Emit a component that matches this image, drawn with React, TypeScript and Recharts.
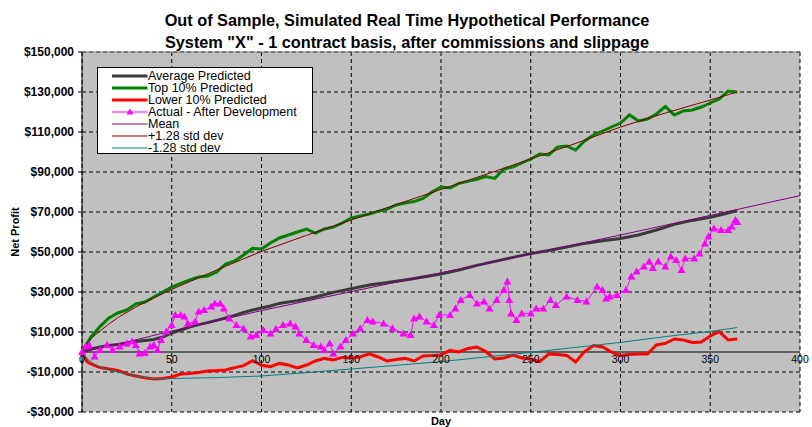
import React from 'react';
import { LineChart, Line, XAxis, YAxis, CartesianGrid, ReferenceLine, ReferenceDot, Legend } from 'recharts';

const FONT = '"Liberation Sans", Arial, sans-serif';

const titleLines = [
  'Out of Sample, Simulated Real Time Hypothetical Performance',
  'System "X" - 1 contract basis, after commissions and slippage',
];

const xTicks = [0, 50, 100, 150, 200, 250, 300, 350, 400];
const yTicks = [-30000, -10000, 10000, 30000, 50000, 70000, 90000, 110000, 130000, 150000];

const averagePredicted: [number, number][] = [
  [0, 0], [5, 1500], [10, 2500], [15, 3200], [20, 3800], [25, 4500], [30, 5200], [35, 5800], [40, 6300], [45, 7500],
  [50, 9500], [55, 11000], [60, 12500], [65, 13700], [70, 14700], [75, 15800], [80, 17000], [85, 18300], [90, 19800],
  [95, 21000], [100, 22000], [105, 23000], [110, 24300], [115, 25000], [120, 25600], [130, 27500], [140, 29800],
  [150, 31600], [160, 33500], [170, 34700], [180, 36000], [190, 37500], [200, 39000], [210, 41000], [220, 43300],
  [230, 45300], [240, 47300], [250, 49200], [260, 50800], [270, 52500], [280, 54300], [290, 55600], [300, 56800],
  [310, 58500], [320, 61000], [330, 63800], [340, 65800], [350, 67300], [360, 69500], [365, 70700],
];

const top10Predicted: [number, number][] = [
  [0, 0], [5, 7500], [10, 12700], [15, 17000], [20, 19500], [25, 21000], [30, 24000], [35, 25000], [40, 27500],
  [45, 30000], [50, 32500], [55, 34300], [60, 36000], [65, 37500], [70, 38000], [75, 40000], [80, 44000], [85, 45500],
  [90, 48500], [95, 51800], [100, 51500], [105, 54500], [110, 57000], [115, 58500], [120, 60000], [125, 61500],
  [130, 59500], [135, 61500], [140, 62500], [145, 64500], [150, 67000], [155, 68000], [160, 69000], [165, 70300],
  [170, 71500], [175, 73500], [180, 74500], [185, 75200], [190, 76800], [195, 80000], [200, 82500], [205, 82000],
  [210, 84300], [215, 85300], [220, 86300], [225, 87700], [230, 86800], [235, 91500], [240, 92500], [245, 94500],
  [250, 96500], [255, 99000], [260, 98500], [265, 102500], [270, 103000], [275, 101000], [280, 105500], [285, 108500],
  [290, 110500], [295, 112500], [300, 114500], [305, 118500], [310, 115500], [315, 116500], [320, 119000],
  [325, 122700], [330, 118500], [335, 120500], [340, 121000], [345, 122500], [350, 124500], [355, 126500],
  [360, 130500], [365, 130000],
];

const lower10Predicted: [number, number][] = [
  [0, 0], [3, -5000], [5, -6000], [10, -7800], [15, -8500], [20, -9200], [25, -11000], [30, -12000], [35, -12900],
  [40, -13500], [45, -13300], [50, -12500], [55, -11000], [60, -10700], [65, -10200], [70, -9500], [75, -9300],
  [80, -9000], [85, -7800], [90, -6800], [95, -4300], [100, -6600], [105, -7300], [110, -5700], [115, -6500],
  [120, -8000], [125, -6500], [130, -4500], [135, -3200], [140, -4000], [145, -2700], [150, -3000], [155, -2500],
  [160, -900], [165, -2500], [170, -4500], [175, -3800], [180, -3200], [185, -4500], [190, -2000], [195, -1800],
  [200, -1500], [205, 800], [210, 0], [215, 1800], [220, 2500], [225, 200], [230, -3500], [235, -3000], [240, -1500],
  [245, -3000], [250, -3500], [255, -4800], [260, -1000], [265, -1200], [270, -1700], [275, -5000], [280, 200],
  [285, 3200], [290, 2500], [295, 0], [300, -1800], [305, -1200], [310, -1000], [315, -1000], [320, 3500],
  [325, 4300], [330, 6500], [335, 6000], [340, 4800], [345, 5000], [350, 8000], [355, 10200], [360, 6000], [365, 6500],
];

const actualAfterDevelopment: [number, number][] = [
  [0, 0], [2, 2700], [4, 3500], [7, -2300], [10, 1000], [14, 3500], [17, 1000], [21, 2700], [25, 4300], [28, 5200],
  [30, 3500], [32, -700], [35, -500], [38, 2700], [40, 3500], [42, 1000], [44, 6000], [47, 10200], [50, 13500],
  [52, 18500], [55, 18500], [57, 17700], [59, 14300], [63, 15200], [65, 20200], [68, 21000], [72, 22700], [74, 24300],
  [77, 24300], [79, 21800], [82, 16800], [86, 13500], [90, 11800], [94, 7700], [97, 8500], [101, 11000], [105, 9300],
  [108, 11500], [112, 13500], [116, 14300], [119, 12700], [121, 9300], [125, 6000], [129, 3500], [133, 2700],
  [135, 1000], [138, 4300], [140, -700], [144, 2700], [147, 6000], [151, 9300], [155, 11800], [159, 16000],
  [162, 15200], [168, 14300], [173, 11800], [179, 9300], [183, 8500], [185, 16800], [188, 17700], [192, 15200],
  [196, 13500], [199, 18500], [205, 18500], [208, 21800], [211, 26000], [216, 28500], [220, 24300], [224, 25200],
  [227, 21800], [231, 26000], [235, 31000], [237, 35200], [238, 26000], [239, 19300], [242, 16000], [245, 19300],
  [250, 19300], [253, 21800], [257, 21800], [261, 26000], [264, 23500], [270, 27700], [276, 26000], [281, 25200],
  [287, 32700], [290, 31000], [292, 26800], [294, 27700], [298, 28500], [303, 31000], [306, 37700], [309, 40200],
  [313, 42700], [316, 45200], [318, 42000], [321, 45200], [325, 42700], [328, 47700], [331, 46000], [334, 41000],
  [336, 46800], [341, 46800], [344, 49300], [347, 54300], [349, 57700], [352, 61800], [356, 61000], [360, 61000],
  [362, 62700], [364, 66000], [365, 65000],
];

const meanLine: [number, number][] = [
  [0, 0], [25, 5000], [50, 10500], [100, 20700], [150, 30200], [200, 39600], [250, 49000], [300, 58500],
  [350, 68300], [400, 78200],
];

const plusStdDev: [number, number][] = [
  [0, 0], [3, 4500], [6, 7500], [10, 10500], [15, 14000], [20, 17200], [30, 22500], [40, 27000], [50, 31300],
  [60, 35200], [75, 41000], [100, 50300], [125, 58300], [150, 66000], [175, 73700], [200, 81300], [225, 88800],
  [250, 96500], [275, 104300], [300, 112500], [325, 119500], [350, 126000], [365, 130000],
];

const minusStdDev: [number, number][] = [
  [0, 0], [3, -3500], [6, -5500], [10, -7500], [15, -8900], [20, -10000], [30, -12000], [40, -13300], [50, -13300],
  [75, -12800], [100, -12000], [125, -10300], [150, -8500], [175, -6700], [200, -4800], [225, -2500], [250, -200],
  [275, 2300], [300, 4800], [325, 7700], [350, 10300], [365, 12200],
];

const toPts = (arr: [number, number][]) => arr.map(([d, v]) => ({ d, v }));

const fmtMoney = (v: number) => {
  const s = '$' + Math.abs(v).toLocaleString('en-US');
  return v < 0 ? '-' + s : s;
};

const MAGENTA = '#ff00ff';

const Tri = (props: any) => {
  const { cx, cy, index } = props;
  if (cx == null || cy == null) return <g key={index} />;
  return (
    <polygon
      key={index}
      points={`${cx},${cy - 4} ${cx - 4},${cy + 3} ${cx + 4},${cy + 3}`}
      fill={MAGENTA}
      stroke="none"
    />
  );
};

const legendItems = [
  { name: 'Average Predicted', color: '#3a3a3a', width: 3, tri: false },
  { name: 'Top 10% Predicted', color: '#008000', width: 3, tri: false },
  { name: 'Lower 10% Predicted', color: '#ff0000', width: 3, tri: false },
  { name: 'Actual - After Development', color: MAGENTA, width: 1, tri: true },
  { name: 'Mean', color: '#800080', width: 1, tri: false },
  { name: '+1.28 std dev', color: '#800000', width: 1, tri: false },
  { name: '-1.28 std dev', color: '#008080', width: 1, tri: false },
];

const LegendBox = () => (
  <div
    style={{
      width: 216,
      height: 87,
      boxSizing: 'border-box',
      border: '1px solid #000',
      background: '#fff',
      paddingTop: 1.6,
      fontFamily: FONT,
      fontSize: 12.5,
      color: '#000',
    }}
  >
    {legendItems.map((it) => (
      <div key={it.name} style={{ display: 'flex', alignItems: 'center', height: 12.1, lineHeight: '12.1px' }}>
        <svg width={50} height={12} style={{ display: 'block', flex: 'none' }}>
          <line x1={14} x2={49.5} y1={6} y2={6} stroke={it.color} strokeWidth={it.width} />
          {it.tri && <polygon points="32,2.5 28.5,8.5 35.5,8.5" fill={MAGENTA} />}
        </svg>
        <span style={{ whiteSpace: 'nowrap' }}>{it.name}</span>
      </div>
    ))}
  </div>
);

export default function App() {
  return (
    <div style={{ position: 'absolute', left: 0, top: 0, width: 812, height: 427, background: '#fff', fontFamily: FONT }}>
      <div
        style={{
          position: 'absolute',
          left: 1,
          top: 9,
          width: 812,
          textAlign: 'center',
          fontWeight: 'bold',
          fontSize: 16.3,
          lineHeight: '22px',
          color: '#000',
        }}
      >
        {titleLines.map((t) => (
          <div key={t}>{t}</div>
        ))}
      </div>
      <LineChart width={812} height={427} margin={{ top: 52, right: 12, bottom: 15, left: 0 }}>
        <CartesianGrid stroke="#000" strokeDasharray="4 3" fill="#c0c0c0" fillOpacity={1} />
        <XAxis type="number" dataKey="d" domain={[0, 400]} ticks={xTicks} hide allowDuplicatedCategory={false} />
        <YAxis
          type="number"
          dataKey="v"
          domain={[-30000, 150000]}
          ticks={yTicks}
          width={82}
          tickFormatter={fmtMoney}
          tick={{ fontSize: 12, fontWeight: 'bold', fill: '#000', fontFamily: FONT }}
          tickSize={4}
          tickMargin={4}
          axisLine={{ stroke: '#000' }}
          tickLine={{ stroke: '#000' }}
          interval={0}
          allowDataOverflow
        />
        <ReferenceLine y={150000} stroke="#808080" strokeWidth={1} />
        <ReferenceLine y={0} stroke="#000" strokeWidth={1} />
        {xTicks.map((t) => (
          <ReferenceDot
            key={t}
            x={t}
            y={0}
            r={0}
            fill="none"
            stroke="none"
            label={{ value: String(t), position: 'bottom', offset: 4, fontSize: 10.5, fill: '#000', fontFamily: FONT }}
          />
        ))}
        <Legend
          layout="horizontal"
          verticalAlign="middle"
          align="center"
          wrapperStyle={{ left: 97, top: 67, width: 216, height: 87 }}
          content={() => <LegendBox />}
        />
        <Line data={toPts(averagePredicted)} dataKey="v" name="Average Predicted" stroke="#3a3a3a" strokeWidth={3} dot={false} isAnimationActive={false} />
        <Line data={toPts(top10Predicted)} dataKey="v" name="Top 10% Predicted" stroke="#008000" strokeWidth={3} dot={false} isAnimationActive={false} />
        <Line data={toPts(lower10Predicted)} dataKey="v" name="Lower 10% Predicted" stroke="#ff0000" strokeWidth={3} dot={false} isAnimationActive={false} />
        <Line data={toPts(actualAfterDevelopment)} dataKey="v" name="Actual - After Development" stroke={MAGENTA} strokeWidth={1} dot={Tri} isAnimationActive={false} />
        <Line data={toPts(meanLine)} dataKey="v" name="Mean" stroke="#800080" strokeWidth={1} dot={false} isAnimationActive={false} />
        <Line data={toPts(plusStdDev)} dataKey="v" name="+1.28 std dev" stroke="#800000" strokeWidth={1} dot={false} isAnimationActive={false} />
        <Line data={toPts(minusStdDev)} dataKey="v" name="-1.28 std dev" stroke="#008080" strokeWidth={1} dot={false} isAnimationActive={false} />
      </LineChart>
      <div
        style={{
          position: 'absolute',
          left: 15,
          top: 232,
          transform: 'translate(-50%, -50%) rotate(-90deg)',
          whiteSpace: 'nowrap',
          fontWeight: 'bold',
          fontSize: 11,
          color: '#000',
        }}
      >
        Net Profit
      </div>
      <div
        style={{
          position: 'absolute',
          left: 441,
          top: 421,
          transform: 'translate(-50%, -50%)',
          whiteSpace: 'nowrap',
          fontWeight: 'bold',
          fontSize: 11,
          color: '#000',
        }}
      >
        Day
      </div>
    </div>
  );
}
